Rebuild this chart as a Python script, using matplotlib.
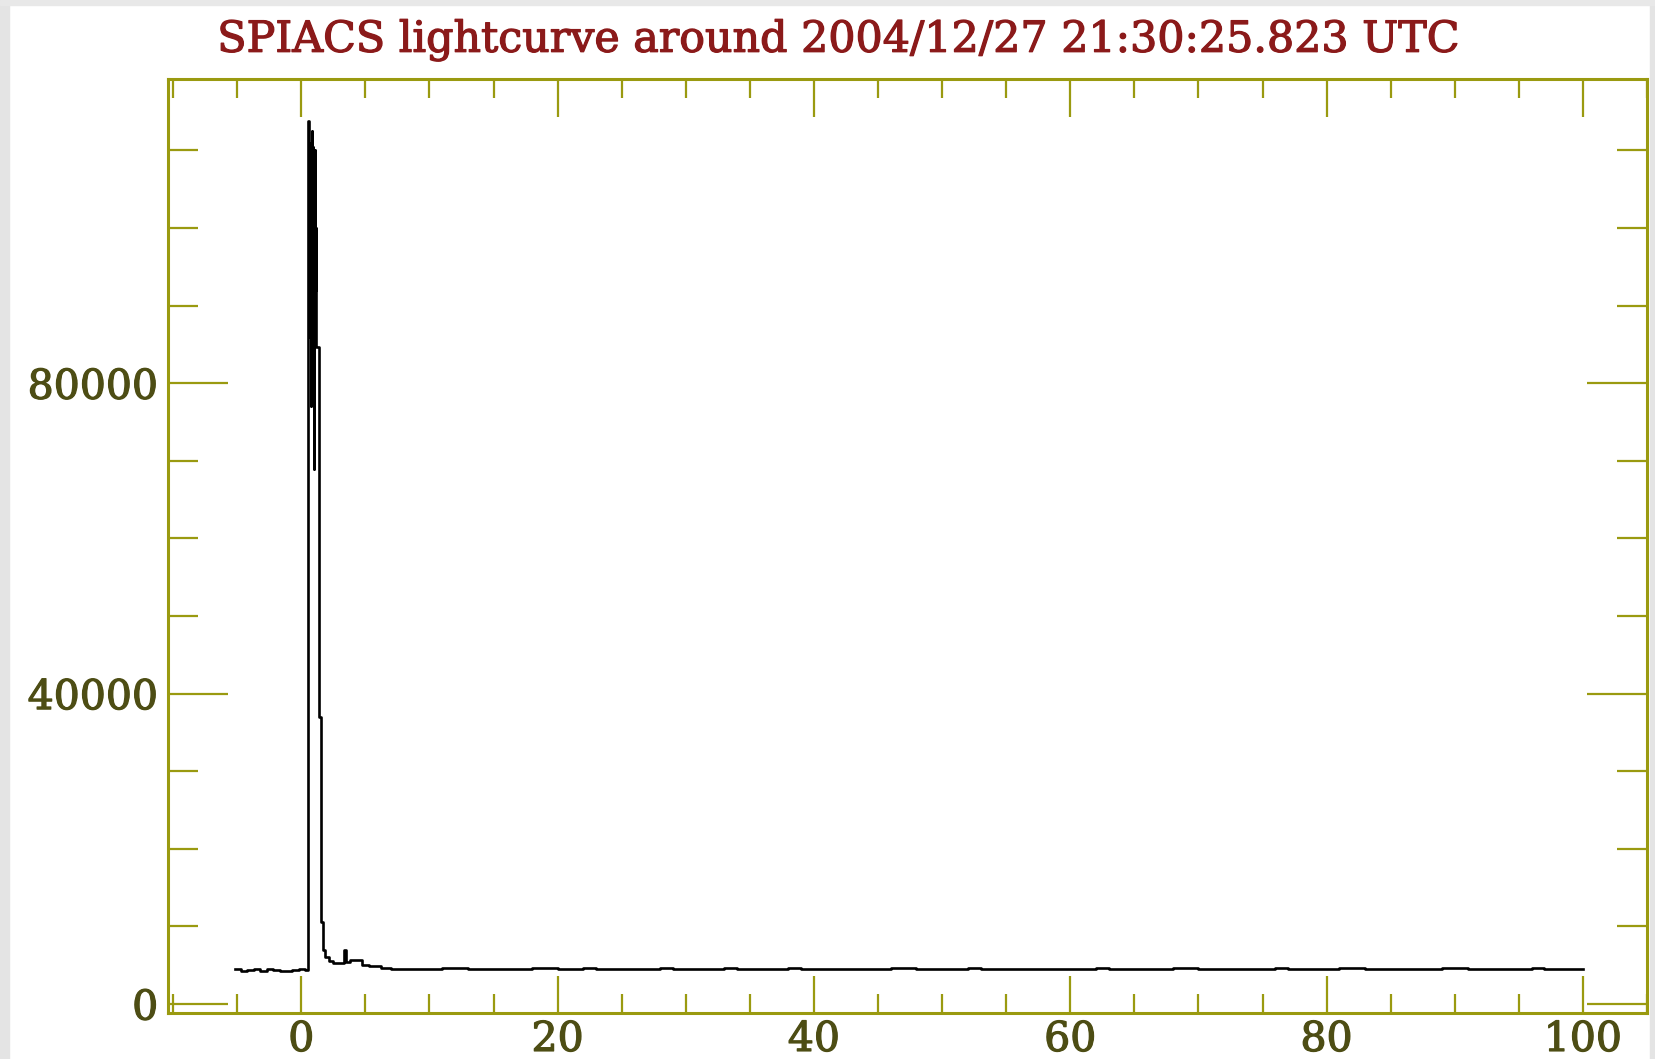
import numpy as np
import matplotlib
matplotlib.use('Agg')
import matplotlib.pyplot as plt
import matplotlib.patheffects as pe
from matplotlib.patches import Rectangle
from matplotlib.ticker import MultipleLocator

# dados da curva de luz (inicio de cada bin em s, contagens)
t_antes = [-5.2, -4.7, -4.2, -3.7, -3.2, -2.7, -2.2, -1.7, -1.2, -0.7, -0.2, 0.3]
c_antes = [4450, 4300, 4400, 4450, 4300, 4450, 4400, 4300, 4300, 4400, 4450, 4400]

# pico saturado: bins de 0.025 s
t_pico = [0.55, 0.575, 0.60, 0.625, 0.65, 0.675, 0.70, 0.725, 0.75, 0.775,
          0.80, 0.825, 0.85, 0.875, 0.90, 0.925, 0.95, 0.975, 1.00, 1.025,
          1.05, 1.075, 1.10, 1.125, 1.15]
c_pico = [113800, 92000, 108000, 86000, 111000, 95000, 104000, 77000, 109000, 88000,
          112500, 90000, 106000, 85000, 110500, 98000, 86000, 108000, 69000, 105000,
          87000, 110000, 92000, 86000, 100000]

# cauda
t_cauda = [1.175, 1.40, 1.56, 1.72, 1.85, 2.2, 2.5, 3.3, 3.5, 3.8, 4.7, 5.3]
c_cauda = [84600, 36950, 10560, 6950, 6050, 5500, 5300, 6950, 5350, 5700, 5050, 4850]

t_depois = [6.2] + list(range(7, 100))
c_depois = [4600, 4550, 4500, 4550, 4550, 4700, 4600, 4500, 4550, 4450, 4500,
            4550, 4650, 4600, 4500, 4550, 4600, 4500, 4550, 4500, 4450, 4550,
            4600, 4500, 4550, 4450, 4500, 4600, 4550, 4500, 4450, 4550, 4600,
            4500, 4550, 4500, 4450, 4550, 4500, 4500, 4600, 4650, 4550, 4450,
            4500, 4550, 4600, 4500, 4550, 4450, 4500, 4550, 4550, 4500, 4450,
            4550, 4600, 4500, 4550, 4500, 4450, 4550, 4600, 4650, 4550, 4500,
            4450, 4550, 4500, 4500, 4600, 4550, 4500, 4450, 4550, 4600, 4600,
            4500, 4450, 4550, 4500, 4450, 4500, 4600, 4650, 4550, 4500, 4450,
            4550, 4500, 4600, 4550, 4500, 4450]
t_fim = 100.0

titulo = 'SPIACS lightcurve around 2004/12/27 21:30:25.823 UTC'

tempo = np.array(t_antes + t_pico + t_cauda + t_depois + [t_fim])
contagem = np.array(c_antes + c_pico + c_cauda + c_depois + [c_depois[-1]])

cor_eixo = '#9a9a10'
cor_texto = '#4d4d14'
cor_titulo = '#8b1a1a'

fig = plt.figure(figsize=(16.56, 10.59), dpi=100)
fig.patch.set_facecolor('white')

# moldura cinza nas bordas (screenshot)
fig.patches.append(Rectangle((0, 0), 9 / 1656, 1, transform=fig.transFigure,
                             color='#e4e4e4', zorder=0))
fig.patches.append(Rectangle((1650 / 1656, 0), 6 / 1656, 1, transform=fig.transFigure,
                             color='#e4e4e4', zorder=0))
fig.patches.append(Rectangle((0, 1 - 5 / 1059), 1, 5 / 1059, transform=fig.transFigure,
                             color='#e8e8e8', zorder=0))

ax = fig.add_axes([168 / 1656, 46 / 1059, 1479 / 1656, 934 / 1059])
ax.plot(tempo, contagem, drawstyle='steps-post', color='black', lw=1.9)

ax.set_xlim(-10.4, 105.0)
ax.set_ylim(-1160, 119200)

ax.xaxis.set_major_locator(MultipleLocator(20))
ax.xaxis.set_minor_locator(MultipleLocator(5))
ax.yaxis.set_major_locator(MultipleLocator(40000))
ax.yaxis.set_minor_locator(MultipleLocator(10000))

for s in ax.spines.values():
    s.set_color(cor_eixo)
    s.set_linewidth(2.2)

ax.tick_params(axis='x', which='major', direction='in', length=27, width=1.6,
               color=cor_eixo, top=True, labelcolor=cor_texto, labelsize=29.5, pad=5)
ax.tick_params(axis='x', which='minor', direction='in', length=14, width=1.6,
               color=cor_eixo, top=True)
ax.tick_params(axis='y', which='major', direction='in', length=43, width=1.6,
               color=cor_eixo, right=True, labelcolor=cor_texto, labelsize=29.5, pad=7)
ax.tick_params(axis='y', which='minor', direction='in', length=21.5, width=1.6,
               color=cor_eixo, right=True)

for lab in ax.get_xticklabels() + ax.get_yticklabels():
    lab.set_family('DejaVu Serif')
    lab.set_path_effects([pe.withStroke(linewidth=0.9, foreground=cor_texto)])

fig.text(838 / 1656, 1 - 40 / 1059, titulo, ha='center', va='center',
         color=cor_titulo, fontsize=30.8, family='DejaVu Serif',
         path_effects=[pe.withStroke(linewidth=0.9, foreground=cor_titulo)])

fig.savefig('out.png', dpi=100)
